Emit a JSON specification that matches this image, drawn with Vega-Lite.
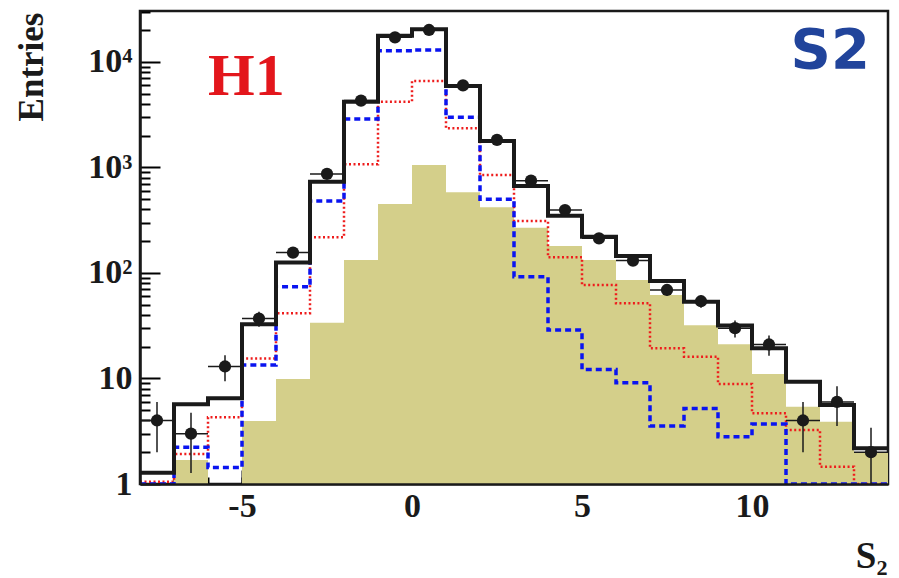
{
  "$schema": "https://vega.github.io/schema/vega-lite/v6.json",
  "width": 748,
  "height": 473,
  "autosize": {"type": "none"},
  "padding": {"left": 140, "top": 11, "right": 11, "bottom": 94},
  "background": "white",
  "config": {
    "view": {"stroke": "#1a1a1a", "strokeWidth": 2.5},
    "axis": {
      "labelFont": "Liberation Serif", "labelFontWeight": "bold", "labelFontSize": 34,
      "titleFont": "Liberation Serif", "titleFontWeight": "bold",
      "labelColor": "#1a1a1a", "titleColor": "#1a1a1a",
      "grid": false
    }
  },
  "data": {"values": [
    {"lo": -8, "hi": -7, "c": -7.5, "total": 1.28, "red": 1.05, "blue": 1.0, "data": 4, "elo": 2, "ehi": 6},
    {"lo": -7, "hi": -6, "c": -6.5, "total": 5.7, "bkg": 1.69, "red": 1.92, "blue": 2.23, "data": 3, "elo": 1.27, "ehi": 4.73},
    {"lo": -6, "hi": -5, "c": -5.5, "total": 6.5, "red": 4.29, "blue": 1.43, "data": 13, "elo": 9.4, "ehi": 16.6},
    {"lo": -5, "hi": -4, "c": -4.5, "total": 32.6, "bkg": 3.95, "red": 15.5, "blue": 13.4, "data": 37, "elo": 31, "ehi": 43},
    {"lo": -4, "hi": -3, "c": -3.5, "total": 126, "bkg": 9.9, "red": 41.5, "blue": 74, "data": 156, "elo": 143.5, "ehi": 168.5},
    {"lo": -3, "hi": -2, "c": -2.5, "total": 734, "bkg": 33.8, "red": 218, "blue": 481, "data": 868, "elo": 839, "ehi": 897},
    {"lo": -2, "hi": -1, "c": -1.5, "total": 4200, "bkg": 133, "red": 1072, "blue": 2880, "data": 4300, "elo": 4234, "ehi": 4366},
    {"lo": -1, "hi": 0, "c": -0.5, "total": 17700, "bkg": 451, "red": 4200, "blue": 12800, "data": 17100, "elo": 16970, "ehi": 17230},
    {"lo": 0, "hi": 1, "c": 0.5, "total": 20400, "bkg": 1056, "red": 6600, "blue": 13000, "data": 20100, "elo": 19960, "ehi": 20240},
    {"lo": 1, "hi": 2, "c": 1.5, "total": 5930, "bkg": 582, "red": 2350, "blue": 2990, "data": 6000, "elo": 5923, "ehi": 6077},
    {"lo": 2, "hi": 3, "c": 2.5, "total": 1780, "bkg": 419, "red": 849, "blue": 499, "data": 1823, "elo": 1780, "ehi": 1866},
    {"lo": 3, "hi": 4, "c": 3.5, "total": 668, "bkg": 269, "red": 311, "blue": 92, "data": 750, "elo": 723, "ehi": 777},
    {"lo": 4, "hi": 5, "c": 4.5, "total": 349, "bkg": 180, "red": 141, "blue": 28.8, "data": 395, "elo": 375, "ehi": 415},
    {"lo": 5, "hi": 6, "c": 5.5, "total": 221, "bkg": 133, "red": 76.9, "blue": 12.2, "data": 213, "elo": 198, "ehi": 228},
    {"lo": 6, "hi": 7, "c": 6.5, "total": 145, "bkg": 86, "red": 51.6, "blue": 9.1, "data": 131, "elo": 120, "ehi": 142},
    {"lo": 7, "hi": 8, "c": 7.5, "total": 84, "bkg": 61.8, "red": 19.3, "blue": 3.55, "data": 69, "elo": 61, "ehi": 77},
    {"lo": 8, "hi": 9, "c": 8.5, "total": 53.5, "bkg": 32, "red": 16.1, "blue": 5.2, "data": 54, "elo": 46.7, "ehi": 61.3},
    {"lo": 9, "hi": 10, "c": 9.5, "total": 31.7, "bkg": 21.1, "red": 8.87, "blue": 2.81, "data": 30, "elo": 24.5, "ehi": 35.5},
    {"lo": 10, "hi": 11, "c": 10.5, "total": 19.3, "bkg": 11.0, "red": 4.68, "blue": 3.7, "data": 21, "elo": 16.4, "ehi": 25.6},
    {"lo": 11, "hi": 12, "c": 11.5, "total": 9.3, "bkg": 5.4, "red": 3.25, "blue": 1.0, "data": 4, "elo": 2, "ehi": 6},
    {"lo": 12, "hi": 13, "c": 12.5, "total": 5.6, "bkg": 3.9, "red": 1.46, "blue": 1.0, "data": 6, "elo": 3.55, "ehi": 8.45},
    {"lo": 13, "hi": 14, "c": 13.5, "total": 2.18, "bkg": 1.98, "red": 1.0, "blue": 1.0, "data": 2, "elo": 0.6, "ehi": 3.41},
    {"lo": 14, "total": 2.18, "red": 1.0, "blue": 1.0}
  ]},
  "resolve": {"axis": {"x": "independent", "y": "independent"}},
  "layer": [
    {
      "mark": {"type": "rect", "color": "#d4cf8a", "clip": true},
      "encoding": {
        "x": {"field": "lo", "type": "quantitative",
              "scale": {"domain": [-8, 14], "nice": false, "zero": false},
              "axis": {"orient": "bottom", "offset": -7, "values": [-7,-6,-5,-4,-3,-2,-1,0,1,2,3,4,5,6,7,8,9,10,11,12,13],
                       "tickSize": 7, "tickWidth": 2, "tickColor": "black", "labels": false, "domain": false, "title": null}},
        "x2": {"field": "hi"},
        "y": {"field": "bkg", "type": "quantitative",
              "scale": {"type": "log", "domain": [1, 30400], "nice": false},
              "axis": {"orient": "left", "offset": -10, "values": [2,3,4,5,6,7,8,9,20,30,40,50,60,70,80,90,200,300,400,500,600,700,800,900,2000,3000,4000,5000,6000,7000,8000,9000,20000,30000],
                       "tickSize": 10, "tickWidth": 2, "tickColor": "black", "labels": false, "domain": false, "title": null}},
        "y2": {"datum": 1}
      }
    },
    {
      "mark": {"type": "line", "interpolate": "step-after", "color": "#ee1c1c", "strokeWidth": 2.5, "strokeDash": [2, 2.5], "clip": true},
      "encoding": {
        "x": {"field": "lo", "type": "quantitative",
              "axis": {"orient": "bottom", "ticks": false, "labels": false, "domain": true, "domainWidth": 2.5, "domainColor": "#1a1a1a", "title": null, "zindex": 2}},
        "y": {"field": "red", "type": "quantitative",
              "axis": {"orient": "left", "ticks": false, "labels": false, "domain": true, "domainWidth": 2.5, "domainColor": "#1a1a1a", "title": null, "zindex": 2}}
      }
    },
    {
      "mark": {"type": "line", "interpolate": "step-after", "color": "#0a14f0", "strokeWidth": 3.5, "strokeDash": [6, 4], "clip": true},
      "encoding": {
        "x": {"field": "lo", "type": "quantitative", "axis": null},
        "y": {"field": "blue", "type": "quantitative", "axis": null}
      }
    },
    {
      "mark": {"type": "line", "interpolate": "step-after", "color": "#1a1a1a", "strokeWidth": 4, "clip": true},
      "encoding": {
        "x": {"field": "lo", "type": "quantitative",
              "axis": {"orient": "bottom", "offset": -14, "values": [-5, 0, 5, 10], "tickSize": 14, "tickWidth": 2, "tickColor": "black",
                       "labelPadding": 5, "labelExpr": "replace(datum.label, '\u2212', '-')",
                       "domain": false,
                       "title": "S\u2082", "titleFontSize": 37, "titleAnchor": null, "titleAlign": "right",
                       "titleBaseline": "alphabetic", "titleX": 747, "titleY": 97}},
        "y": {"field": "total", "type": "quantitative",
              "axis": {"orient": "left", "offset": -20, "values": [1, 10, 100, 1000, 10000], "tickSize": 20, "tickWidth": 2, "tickColor": "black",
                       "labelPadding": 8,
                       "labelExpr": "datum.value >= 10000 ? '10\u2074' : datum.value >= 1000 ? '10\u00b3' : datum.value >= 100 ? '10\u00b2' : datum.value >= 10 ? '10' : '1'",
                       "domain": false,
                       "title": "Entries", "titleFontSize": 35, "titleAngle": -90, "titleAnchor": null,
                       "titleAlign": "right", "titleBaseline": "alphabetic", "titleX": -118, "titleY": 1}}
      }
    },
    {
      "mark": {"type": "rule", "color": "#1a1a1a", "strokeWidth": 1.5, "clip": true},
      "encoding": {
        "x": {"field": "c", "type": "quantitative", "axis": null},
        "y": {"field": "elo", "type": "quantitative", "axis": null},
        "y2": {"field": "ehi"}
      }
    },
    {
      "mark": {"type": "rule", "color": "#1a1a1a", "strokeWidth": 1.5, "clip": true},
      "encoding": {
        "x": {"field": "lo", "type": "quantitative", "axis": null},
        "x2": {"field": "hi"},
        "y": {"field": "data", "type": "quantitative", "axis": null}
      }
    },
    {
      "mark": {"type": "point", "shape": "circle", "filled": true, "size": 150, "color": "#1a1a1a", "opacity": 1, "clip": true},
      "encoding": {
        "x": {"field": "c", "type": "quantitative", "axis": null},
        "y": {"field": "data", "type": "quantitative", "axis": null}
      }
    },
    {
      "data": {"values": [{"label": "H1"}]},
      "mark": {"type": "text", "font": "Liberation Serif", "fontWeight": "bold", "fontSize": 60, "color": "#e3161c", "align": "center", "baseline": "alphabetic"},
      "encoding": {
        "x": {"datum": -4.87, "type": "quantitative", "axis": null},
        "y": {"datum": 4865, "type": "quantitative", "axis": null},
        "text": {"field": "label"}
      }
    },
    {
      "data": {"values": [{"label": "S2"}]},
      "mark": {"type": "text", "font": "DejaVu Sans", "fontWeight": "bold", "fontSize": 56, "color": "#21449b", "align": "center", "baseline": "alphabetic"},
      "encoding": {
        "x": {"datum": 12.3, "type": "quantitative", "axis": null},
        "y": {"datum": 8770, "type": "quantitative", "axis": null},
        "text": {"field": "label"}
      }
    }
  ]
}
